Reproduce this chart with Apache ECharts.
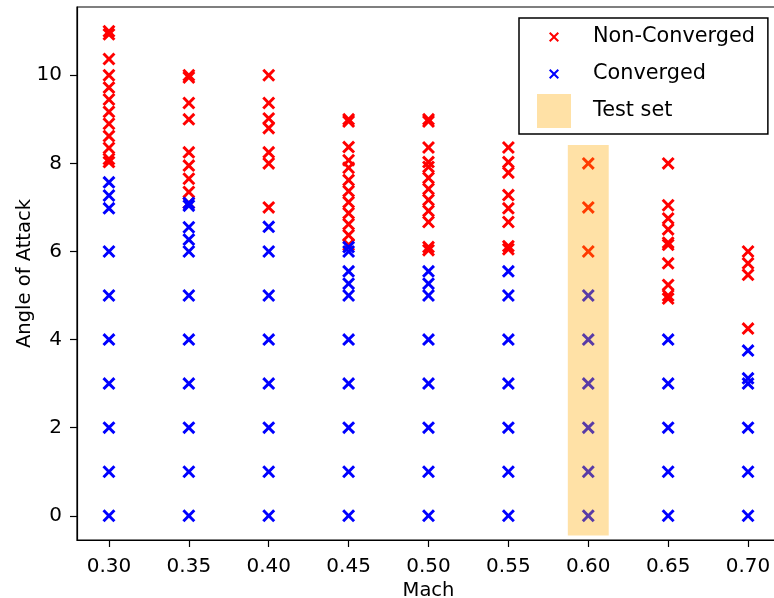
<!DOCTYPE html>
<html>
<head>
<meta charset="utf-8">
<script src="https://cdn.jsdelivr.net/npm/echarts@6/dist/echarts.min.js"></script>
<style>
html,body{margin:0;padding:0;background:#fff;}
#chart{width:774px;height:598px;}
</style>
</head>
<body>
<div id="chart"></div>
<script>
// Mach numbers (columns)
const machs = [0.30, 0.35, 0.40, 0.45, 0.50, 0.55, 0.60, 0.65, 0.70];
// Angle of attack values per Mach column
const nonConvergedAoA = [
  [11.0, 10.93, 10.37, 10.0, 9.72, 9.45, 9.17, 8.9, 8.62, 8.35, 8.1, 8.03],
  [10.0, 9.95, 9.37, 9.0, 8.25, 7.95, 7.65, 7.35, 7.1],
  [10.0, 9.37, 9.02, 8.8, 8.25, 8.0, 7.0],
  [9.0, 8.95, 8.37, 8.07, 7.9, 7.62, 7.37, 7.12, 6.87, 6.62, 6.37, 6.15],
  [9.0, 8.95, 8.36, 8.03, 7.92, 7.67, 7.42, 7.17, 6.92, 6.67, 6.1, 6.03],
  [8.36, 8.03, 7.79, 7.28, 6.98, 6.67, 6.12, 6.05],
  [8.0, 7.0, 6.0],
  [8.0, 7.05, 6.75, 6.5, 6.2, 6.15, 5.73, 5.24, 5.0, 4.93],
  [6.0, 5.73, 5.47, 4.25]
];
const convergedAoA = [
  [7.57, 7.27, 6.98, 6, 5, 4, 3, 2, 1, 0],
  [7.1, 7.04, 6.55, 6.27, 6.0, 5, 4, 3, 2, 1, 0],
  [6.56, 6.0, 5, 4, 3, 2, 1, 0],
  [6.1, 6.0, 5.55, 5.27, 5.0, 4, 3, 2, 1, 0],
  [5.55, 5.27, 5.0, 4, 3, 2, 1, 0],
  [5.55, 5.0, 4, 3, 2, 1, 0],
  [5, 4, 3, 2, 1, 0],
  [4, 3, 2, 1, 0],
  [3.75, 3.12, 3.0, 2, 1, 0]
];
// Test set band: [machFrom, aoaFrom, machTo, aoaTo]
const testSetBand = [0.5872, -0.45, 0.6128, 8.42];
const xTicks = [0.30, 0.35, 0.40, 0.45, 0.50, 0.55, 0.60, 0.65, 0.70];
const yTicks = [0, 2, 4, 6, 8, 10];
const seriesNames = ['Non-Converged', 'Converged', 'Test set'];

function pairs(groups) {
  const out = [];
  groups.forEach((vals, i) => vals.forEach(v => out.push([machs[i], v])));
  return out;
}

const X_PATH = 'M0,16L16,0L50,34L84,0L100,16L66,50L100,84L84,100L50,66L16,100L0,84L34,50Z';
const X_SYMBOL = 'path://' + X_PATH;
const X_ICON = 'path://M-120,-120L-120,-120ZM220,220L220,220Z' + 'M0,14L14,0L50,36L86,0L100,14L64,50L100,86L86,100L50,64L14,100L0,86L36,50Z';
const FONT = 'DejaVu Sans';
const BAND = 'rgba(255,170,0,0.35)';

const chart = echarts.init(document.getElementById('chart'), null, {renderer: 'canvas'});
chart.setOption({
  animation: false,
  backgroundColor: '#fff',
  grid: {
    left: 77, top: 7, width: 703, bottom: 58,
    outerBoundsMode: 'none', containLabel: false,
    show: true, borderColor: '#000', borderWidth: 1.2, backgroundColor: 'transparent'
  },
  legend: {
    orient: 'vertical',
    left: 519, top: 18,
    padding: [2, 13, 6, 18],
    itemGap: 3,
    itemWidth: 34, itemHeight: 34,
    borderColor: '#000', borderWidth: 1.5, borderRadius: 0,
    backgroundColor: '#fff',
    textStyle: {fontFamily: FONT, fontSize: 20.8, color: '#000', padding: [0, 0, 0, 17]},
    data: [
      {name: seriesNames[0], icon: X_ICON},
      {name: seriesNames[1], icon: X_ICON},
      {name: seriesNames[2], icon: 'rect'}
    ]
  },
  xAxis: {
    type: 'value', min: 0.28, max: 0.72,
    name: 'Mach', nameLocation: 'middle', nameGap: 41, nameMoveOverlap: false,
    nameTextStyle: {fontFamily: FONT, fontSize: 19.5, color: '#000'},
    axisLine: {show: true, onZero: false, lineStyle: {color: '#000', width: 1.2}},
    axisTick: {show: true, length: 7, lineStyle: {color: '#000', width: 1.2}, customValues: xTicks},
    axisLabel: {show: true, margin: 17, fontFamily: FONT, fontSize: 20, color: '#000',
      customValues: xTicks, formatter: v => Number(v).toFixed(2)},
    splitLine: {show: false}
  },
  yAxis: {
    type: 'value', min: -0.55, max: 11.55,
    name: 'Angle of Attack', nameLocation: 'middle', nameGap: 42, nameRotate: 90,
    nameMoveOverlap: false,
    nameTextStyle: {fontFamily: FONT, fontSize: 19.5, color: '#000'},
    axisLine: {show: true, onZero: false, lineStyle: {color: '#000', width: 1.2}},
    axisTick: {show: true, length: 7, lineStyle: {color: '#000', width: 1.2}, customValues: yTicks},
    axisLabel: {show: true, margin: 15, fontFamily: FONT, fontSize: 20, color: '#000',
      customValues: yTicks, formatter: v => String(Math.round(v))},
    splitLine: {show: false}
  },
  series: [
    {
      name: seriesNames[0], type: 'scatter', z: 2,
      symbol: X_SYMBOL, symbolSize: 13,
      itemStyle: {color: '#ff0000', opacity: 1},
      data: pairs(nonConvergedAoA)
    },
    {
      name: seriesNames[1], type: 'scatter', z: 3,
      symbol: X_SYMBOL, symbolSize: 13,
      itemStyle: {color: '#0000ff', opacity: 1},
      data: pairs(convergedAoA)
    },
    {
      name: seriesNames[2], type: 'custom', z: 5, silent: true,
      itemStyle: {color: BAND},
      encode: {x: [0, 2], y: [1, 3]},
      renderItem: (params, api) => {
        const p0 = api.coord([api.value(0), api.value(1)]);
        const p1 = api.coord([api.value(2), api.value(3)]);
        return {
          type: 'rect',
          shape: {x: p0[0], y: p1[1], width: p1[0] - p0[0], height: p0[1] - p1[1]},
          style: {fill: BAND}
        };
      },
      data: [testSetBand]
    }
  ]
});
</script>
</body>
</html>
